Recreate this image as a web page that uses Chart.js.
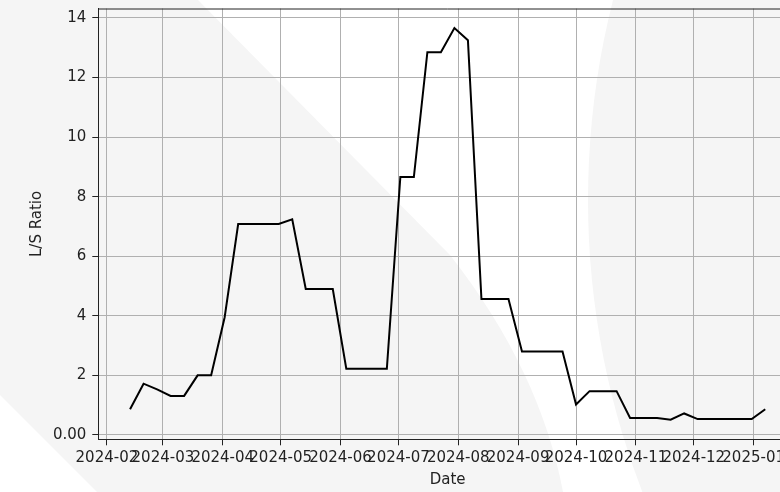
<!DOCTYPE html>
<html>
<head>
<meta charset="utf-8">
<script src="https://cdn.jsdelivr.net/npm/chart.js@4.4.1/dist/chart.umd.min.js"></script>
<style>
    html, body { margin: 0; padding: 0; background: #fff; overflow: hidden; }
    canvas { display: block; }
</style>
</head>
<body>
<canvas id="lsChart" width="800" height="492"></canvas>
<script>
// weekly long/short ratio readings
const dates = [
    '2024-02-13', '2024-02-20', '2024-02-27', '2024-03-05', '2024-03-12', '2024-03-19', '2024-03-26',
    '2024-04-02', '2024-04-09', '2024-04-16', '2024-04-23', '2024-04-30', '2024-05-07', '2024-05-14',
    '2024-05-21', '2024-05-28', '2024-06-04', '2024-06-11', '2024-06-18', '2024-06-25', '2024-07-02',
    '2024-07-09', '2024-07-16', '2024-07-23', '2024-07-30', '2024-08-06', '2024-08-13', '2024-08-20',
    '2024-08-27', '2024-09-03', '2024-09-10', '2024-09-17', '2024-09-24', '2024-10-01', '2024-10-08',
    '2024-10-15', '2024-10-22', '2024-10-29', '2024-11-05', '2024-11-12', '2024-11-19', '2024-11-26',
    '2024-12-03', '2024-12-10', '2024-12-17', '2024-12-24', '2024-12-31', '2025-01-07'
];
const ratios = [
    0.86, 1.72, 1.53, 1.31, 1.31, 2.00, 2.00,
    3.95, 7.08, 7.08, 7.08, 7.08, 7.24, 4.90,
    4.90, 4.90, 2.22, 2.22, 2.22, 2.22, 8.66,
    8.66, 12.85, 12.85, 13.66, 13.25, 4.56, 4.56,
    4.56, 2.80, 2.80, 2.80, 2.80, 1.02, 1.47,
    1.47, 1.47, 0.57, 0.57, 0.57, 0.51, 0.72,
    0.53, 0.53, 0.53, 0.53, 0.53, 0.86
];
const monthTicks = ['2024-02', '2024-03', '2024-04', '2024-05', '2024-06', '2024-07',
    '2024-08', '2024-09', '2024-10', '2024-11', '2024-12', '2025-01'];
const yTicks = [0, 2, 4, 6, 8, 10, 12, 14];

const toDay = s => Date.UTC(+s.slice(0, 4), +s.slice(5, 7) - 1, s.length > 7 ? +s.slice(8, 10) : 1) / 86400000;

const points = dates.map((d, i) => ({x: toDay(d), y: ratios[i]}));
const monthDays = monthTicks.map(toDay);

// matplotlib style 5% margins
const xFirst = points[0].x, xLast = points[points.length - 1].x;
const xPad = (xLast - xFirst) * 0.05;
const yLo = Math.min(...ratios), yHi = Math.max(...ratios);
const yPad = (yHi - yLo) * 0.05;

const textColor = '#222';
const font = {family: 'DejaVu Sans', size: 15};

// faint logo watermark behind the figure
const watermark = {
    id: 'watermark',
    beforeDraw(chart) {
        const ctx = chart.ctx;
        ctx.save();
        ctx.fillStyle = '#f5f5f5';
        ctx.beginPath();
        ctx.moveTo(0, 0);
        ctx.lineTo(198, 0);
        ctx.lineTo(450, 255);
        ctx.quadraticCurveTo(540, 370, 563, 492);
        ctx.lineTo(97, 492);
        ctx.lineTo(0, 395);
        ctx.closePath();
        ctx.fill();
        ctx.beginPath();
        ctx.arc(1400, 200, 812, 0, Math.PI * 2);
        ctx.fill();
        ctx.restore();
    }
};

// top and right spines
const frame = {
    id: 'frame',
    afterDraw(chart) {
        const a = chart.chartArea;
        const ctx = chart.ctx;
        ctx.save();
        ctx.strokeStyle = textColor;
        ctx.lineWidth = 1;
        ctx.beginPath();
        ctx.moveTo(a.left, a.top + 0.5);
        ctx.lineTo(a.right, a.top + 0.5);
        ctx.lineTo(a.right, a.bottom);
        ctx.stroke();
        ctx.restore();
    }
};

new Chart(document.getElementById('lsChart').getContext('2d'), {
    type: 'line',
    data: {
        datasets: [{
            label: 'L/S Ratio',
            data: points,
            borderColor: '#000',
            borderWidth: 2,
            pointRadius: 0,
            tension: 0,
            fill: false
        }]
    },
    options: {
        responsive: false,
        animation: false,
        events: [],
        layout: {padding: {top: 8.5, right: 3, left: 0, bottom: 0}},
        plugins: {legend: {display: false}, tooltip: {enabled: false}},
        scales: {
            x: {
                type: 'linear',
                min: xFirst - xPad,
                max: xLast + xPad,
                afterFit: scale => {
                    scale.height = 52.7;
                    scale.paddingLeft = 0;
                    scale.paddingRight = 0;
                },
                afterBuildTicks: scale => { scale.ticks = monthDays.map(v => ({value: v})); },
                ticks: {
                    color: textColor,
                    font: font,
                    padding: 4,
                    maxRotation: 0,
                    autoSkip: false,
                    callback: v => monthTicks[monthDays.indexOf(v)]
                },
                grid: {color: '#b0b0b0', lineWidth: 1, tickLength: 6, tickColor: textColor},
                border: {display: true, color: textColor, width: 1},
                title: {display: true, text: 'Date', color: textColor, font: font, padding: {top: 0, bottom: 3}}
            },
            y: {
                min: yLo - yPad,
                max: yHi + yPad,
                afterFit: scale => {
                    scale.width = 98.3;
                    scale.paddingTop = 0;
                    scale.paddingBottom = 0;
                },
                afterBuildTicks: scale => { scale.ticks = yTicks.map(v => ({value: v})); },
                ticks: {
                    color: textColor,
                    font: font,
                    padding: 6,
                    callback: v => v === 0 ? '0.00' : String(v)
                },
                grid: {color: '#b0b0b0', lineWidth: 1, tickLength: 6, tickColor: textColor},
                border: {display: true, color: textColor, width: 1},
                title: {display: true, text: 'L/S Ratio', color: textColor, font: font, padding: {top: 28, bottom: 0}}
            }
        }
    },
    plugins: [watermark, frame]
});
</script>
</body>
</html>
